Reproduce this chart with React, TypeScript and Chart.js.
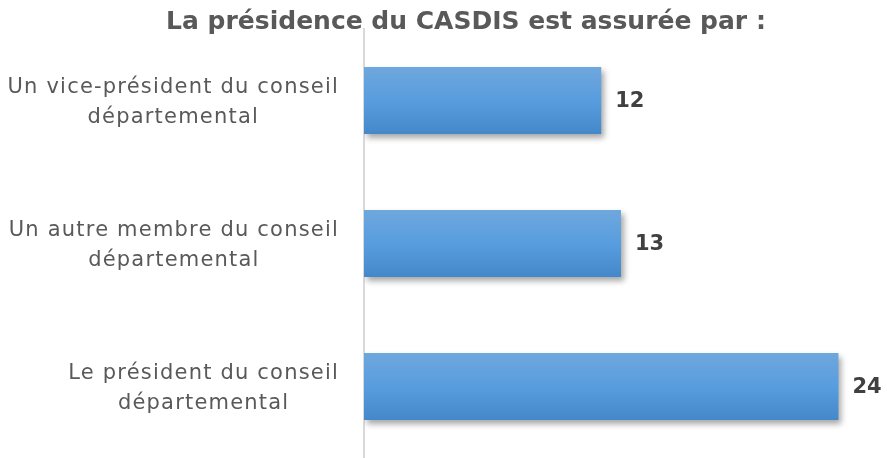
import React, { useEffect, useRef } from "react";
import { Chart, registerables } from "chart.js";

Chart.register(...registerables);

const titleText = "La présidence du CASDIS est assurée par :";
const categories: string[][] = [
  ["Un vice-président du conseil", "départemental"],
  ["Un autre membre du conseil", "départemental"],
  ["Le président du conseil", "départemental"],
];
const values = [12, 13, 24];

const FONT = "'DejaVu Sans', 'Open Sans', sans-serif";
const BAR_FRACTION = 0.47;

export default function App() {
  const ref = useRef<HTMLCanvasElement | null>(null);

  useEffect(() => {
    if (!ref.current) return;

    const decor = {
      id: "decor",
      beforeDatasetDraw(chart: any) {
        const ctx = chart.ctx;
        ctx.save();
        ctx.shadowColor = "rgba(0,0,0,0.35)";
        ctx.shadowBlur = 6;
        ctx.shadowOffsetX = 3;
        ctx.shadowOffsetY = 4;
      },
      afterDatasetDraw(chart: any) {
        chart.ctx.restore();
      },
      afterDatasetsDraw(chart: any) {
        const ctx = chart.ctx;
        const meta = chart.getDatasetMeta(0);
        ctx.save();
        // value labels
        ctx.font = `bold 21px ${FONT}`;
        ctx.fillStyle = "#404040";
        ctx.textAlign = "left";
        ctx.textBaseline = "middle";
        meta.data.forEach((el: any, i: number) => {
          ctx.fillText(String(values[i]), el.x + 14, el.y + 1);
        });
        // category labels (block right-aligned, lines centered)
        const yScale = chart.scales.y;
        const right = chart.chartArea.left - 25;
        const lineH = 30;
        ctx.font = `21px ${FONT}`;
        (ctx as any).letterSpacing = "1.2px";
        ctx.fillStyle = "#595959";
        ctx.textAlign = "center";
        categories.forEach((lines, i) => {
          const w = Math.max(...lines.map((l) => ctx.measureText(l).width));
          const cx = right - w / 2;
          const cy = yScale.getPixelForValue(i) + 2;
          const top = cy - ((lines.length - 1) * lineH) / 2;
          lines.forEach((l, j) => ctx.fillText(l, cx, top + j * lineH));
        });
        // title
        ctx.font = `bold 25px ${FONT}`;
        (ctx as any).letterSpacing = "0px";
        ctx.fillStyle = "#595959";
        ctx.textAlign = "center";
        ctx.fillText(titleText, 466, 22);
        ctx.restore();
      },
    };

    const chart = new Chart(ref.current, {
      type: "bar",
      data: {
        labels: categories.map((c) => c.join(" ")),
        datasets: [
          {
            data: values,
            barPercentage: BAR_FRACTION,
            categoryPercentage: 1,
            backgroundColor: (c: any) => {
              const ch = c.chart;
              const ys = ch.scales?.y;
              if (!ch.chartArea || !ys) return "#5b9bd5";
              const center = ys.getPixelForValue(c.dataIndex);
              const half = (Math.abs(ys.getPixelForValue(1) - ys.getPixelForValue(0)) * BAR_FRACTION) / 2;
              const g = ch.ctx.createLinearGradient(0, center - half, 0, center + half);
              g.addColorStop(0, "#6fa7dd");
              g.addColorStop(0.5, "#589ddf");
              g.addColorStop(1, "#4488c9");
              return g;
            },
            borderWidth: 0,
          },
        ],
      },
      options: {
        indexAxis: "y",
        animation: false,
        responsive: false,
        maintainAspectRatio: false,
        layout: { padding: { top: 29, right: 9, bottom: 0, left: 0 } },
        plugins: {
          legend: { display: false },
          title: { display: false },
          tooltip: { enabled: false },
        },
        scales: {
          x: { display: false, min: 0, max: 26 },
          y: {
            display: true,
            grid: { display: false, drawTicks: false },
            border: { display: true, color: "#d9d9d9", width: 2 },
            ticks: { display: false },
            afterFit: (s: any) => {
              s.width = 364;
            },
          },
        },
      },
      plugins: [decor],
    });

    return () => chart.destroy();
  }, []);

  return (
    <div style={{ position: "fixed", left: 0, top: 0, width: 887, height: 458, background: "#fff" }}>
      <canvas ref={ref} width={887} height={458} style={{ width: 887, height: 458 }} />
    </div>
  );
}
